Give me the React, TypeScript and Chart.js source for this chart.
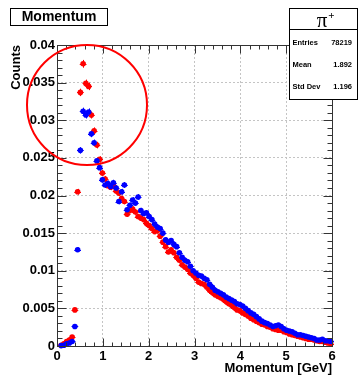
import { useEffect, useRef } from "react";
import { Chart, registerables } from "chart.js";

Chart.register(...registerables);

// Histogram binning: 100 bins over 0–6 GeV
const binCenters = [
  0.03, 0.09, 0.15, 0.21, 0.27, 0.33, 0.39, 0.45, 0.51, 0.57,
  0.63, 0.69, 0.75, 0.81, 0.87, 0.93, 0.99, 1.05, 1.11, 1.17,
  1.23, 1.29, 1.35, 1.41, 1.47, 1.53, 1.59, 1.65, 1.71, 1.77,
  1.83, 1.89, 1.95, 2.01, 2.07, 2.13, 2.19, 2.25, 2.31, 2.37,
  2.43, 2.49, 2.55, 2.61, 2.67, 2.73, 2.79, 2.85, 2.91, 2.97,
  3.03, 3.09, 3.15, 3.21, 3.27, 3.33, 3.39, 3.45, 3.51, 3.57,
  3.63, 3.69, 3.75, 3.81, 3.87, 3.93, 3.99, 4.05, 4.11, 4.17,
  4.23, 4.29, 4.35, 4.41, 4.47, 4.53, 4.59, 4.65, 4.71, 4.77,
  4.83, 4.89, 4.95, 5.01, 5.07, 5.13, 5.19, 5.25, 5.31, 5.37,
  5.43, 5.49, 5.55, 5.61, 5.67, 5.73, 5.79, 5.85, 5.91, 5.97,
];
const binWidth = 0.06;

// Normalised counts per bin
const redCounts: (number | null)[] = [
  null, 0.0001, 0.0003, 0.0006, 0.0008, 0.0012, 0.0048, 0.0205, 0.0337, 0.0375,
  0.0349, 0.0345, 0.0307, 0.0286, 0.0267, 0.0248, 0.0230, 0.0222, 0.0213, 0.0211,
  0.0214, 0.0206, 0.0203, 0.0196, 0.0192, 0.0175, 0.0180, 0.0182, 0.0178, 0.0172,
  0.0170, 0.0168, 0.0163, 0.0160, 0.0156, 0.0152, 0.0153, 0.0146, 0.0138, 0.0132,
  0.0125, 0.0128, 0.0124, 0.0118, 0.0114, 0.0108, 0.0105, 0.0102, 0.0097, 0.0094,
  0.0090, 0.0085, 0.0083, 0.0082, 0.0078, 0.0074, 0.0071, 0.0068, 0.0066, 0.0064,
  0.0062, 0.0059, 0.0056, 0.0054, 0.0051, 0.0048, 0.0047, 0.0044, 0.0042, 0.0040,
  0.0037, 0.0035, 0.0033, 0.0031, 0.0029, 0.0028, 0.0026, 0.0025, 0.0023, 0.0022,
  0.0021, 0.0021, 0.0019, 0.0018, 0.0016, 0.0015, 0.0014, 0.0013, 0.0012, 0.0011,
  0.0010, 0.0009, 0.0009, 0.0008, 0.0007, 0.0006, 0.0006, 0.0005, 0.0004, 0.0003,
];

const blueCounts: (number | null)[] = [
  null, 0.00005, 0.0001, 0.0003, 0.0004, 0.0006, 0.0026, 0.0128, 0.0260, 0.0312,
  0.0307, 0.0311, 0.0282, 0.0270, 0.0246, 0.0237, 0.0221, 0.0214, 0.0216, 0.0212,
  0.0217, 0.0210, 0.0192, 0.0205, 0.0214, 0.0181, 0.0187, 0.0194, 0.0190, 0.0198,
  0.0180, 0.0176, 0.0177, 0.0172, 0.0168, 0.0162, 0.0158, 0.0156, 0.0150, 0.0141,
  0.0138, 0.0140, 0.0135, 0.0132, 0.0124, 0.0118, 0.0114, 0.0112, 0.0106, 0.0100,
  0.0097, 0.0094, 0.0093, 0.0090, 0.0088, 0.0082, 0.0078, 0.0074, 0.0072, 0.0070,
  0.0068, 0.0065, 0.0063, 0.0061, 0.0059, 0.0056, 0.0055, 0.0053, 0.0050, 0.0047,
  0.0044, 0.0042, 0.0039, 0.0036, 0.0033, 0.0031, 0.0030, 0.0028, 0.0026, 0.0027,
  0.0028, 0.0026, 0.0023, 0.0021, 0.0020, 0.0019, 0.0017, 0.0015, 0.0015, 0.0014,
  0.0013, 0.0012, 0.0011, 0.0010, 0.0008, 0.0008, 0.0009, 0.0007, 0.0007, 0.0006,
];

// Statistics box
const statsTitle = "π";
const statsLabels = ["Entries", "Mean", "Std Dev"];
const statsValues = ["78219", "1.892", "1.196"];
const histTitle = "Momentum";

// Statistical uncertainty: sqrt(content / effective entries)
const effectiveEntries = 140000;

const RED = "#ff0000";
const BLUE = "#0000ff";
const FONT = "Liberation Sans";

const toPoints = (vals: (number | null)[]) =>
  binCenters
    .map((x, i) => ({ x, y: vals[i] }))
    .filter((p) => p.y !== null) as { x: number; y: number }[];

const errorBarsPlugin = {
  id: "errorBars",
  beforeDatasetsDraw(chart: any) {
    const { ctx } = chart;
    const xs = chart.scales.x;
    const ys = chart.scales.y;
    ctx.save();
    ctx.lineWidth = 1;
    // draw lower layers first
    for (let di = chart.data.datasets.length - 1; di >= 0; di--) {
      const ds = chart.data.datasets[di];
      ctx.strokeStyle = ds.pointBackgroundColor;
      ds.data.forEach((p: { x: number; y: number }) => {
        const err = Math.sqrt(p.y / effectiveEntries);
        const px = xs.getPixelForValue(p.x);
        const py = ys.getPixelForValue(p.y);
        const y1 = ys.getPixelForValue(p.y + err);
        const y2 = ys.getPixelForValue(Math.max(0, p.y - err));
        const x1 = xs.getPixelForValue(p.x - binWidth / 2);
        const x2 = xs.getPixelForValue(p.x + binWidth / 2);
        ctx.beginPath();
        ctx.moveTo(Math.round(px) + 0.5, y1);
        ctx.lineTo(Math.round(px) + 0.5, y2);
        ctx.moveTo(x1 - 2, Math.round(py) + 0.5);
        ctx.lineTo(x2 + 2, Math.round(py) + 0.5);
        ctx.stroke();
      });
    }
    ctx.restore();
  },
};

const framePlugin = {
  id: "frame",
  afterDatasetsDraw(chart: any) {
    const { ctx, chartArea } = chart;
    const xs = chart.scales.x;
    const ys = chart.scales.y;
    const L = Math.round(chartArea.left) + 0.5;
    const R = Math.round(chartArea.right) + 0.5;
    const T = Math.round(chartArea.top) + 0.5;
    const B = Math.round(chartArea.bottom) + 0.5;
    ctx.save();
    ctx.strokeStyle = "#333";
    ctx.lineWidth = 1;
    ctx.strokeRect(L, T, R - L, B - T);
    ctx.beginPath();
    // x ticks: major every 1, minor every 0.2
    for (let i = 0; i <= 30; i++) {
      const px = Math.round(xs.getPixelForValue(i * 0.2)) + 0.5;
      const len = i % 5 === 0 ? 8 : 4;
      ctx.moveTo(px, B);
      ctx.lineTo(px, B - len);
      ctx.moveTo(px, T);
      ctx.lineTo(px, T + len);
    }
    // y ticks: major every 0.005, minor every 0.001
    for (let i = 0; i <= 40; i++) {
      const py = Math.round(ys.getPixelForValue(i * 0.001)) + 0.5;
      const len = i % 5 === 0 ? 9 : 5;
      ctx.moveTo(L, py);
      ctx.lineTo(L + len, py);
      ctx.moveTo(R, py);
      ctx.lineTo(R - len, py);
    }
    ctx.stroke();

    // highlight circle
    ctx.strokeStyle = RED;
    ctx.lineWidth = 2;
    ctx.beginPath();
    ctx.arc(87, 105, 60, 0, Math.PI * 2);
    ctx.stroke();
    ctx.restore();
  },
  afterDraw(chart: any) {
    const { ctx } = chart;
    ctx.save();
    // histogram title box
    ctx.fillStyle = "#fff";
    ctx.strokeStyle = "#000";
    ctx.lineWidth = 1;
    ctx.fillRect(10.5, 8.5, 97, 17);
    ctx.strokeRect(10.5, 8.5, 97, 17);
    ctx.fillStyle = "#000";
    ctx.font = `bold 14px "${FONT}"`;
    ctx.textAlign = "center";
    ctx.textBaseline = "middle";
    ctx.fillText(histTitle, 59, 17.5);

    // statistics box
    const bx = 289.5, by = 8.5, bw = 68, bh = 91;
    ctx.fillStyle = "#fff";
    ctx.fillRect(bx, by, bw, bh);
    ctx.strokeStyle = "#000";
    ctx.strokeRect(bx, by, bw, bh);
    ctx.beginPath();
    ctx.moveTo(bx, 29.5);
    ctx.lineTo(bx + bw, 29.5);
    ctx.stroke();

    ctx.fillStyle = "#000";
    ctx.font = `21px "Liberation Serif"`;
    ctx.textAlign = "center";
    ctx.textBaseline = "alphabetic";
    ctx.fillText(statsTitle, 322, 27);
    ctx.font = `bold 11px "Liberation Serif"`;
    ctx.fillText("+", 331.5, 19);

    ctx.font = `bold 7.5px "${FONT}"`;
    ctx.textBaseline = "middle";
    const rowsY = [43, 65, 87];
    statsLabels.forEach((lab, i) => {
      ctx.textAlign = "left";
      ctx.fillText(lab, 292.5, rowsY[i]);
      ctx.textAlign = "right";
      ctx.fillText(statsValues[i], 352, rowsY[i]);
    });
    ctx.restore();
  },
};

export default function App() {
  const ref = useRef<HTMLCanvasElement>(null);

  useEffect(() => {
    const tickFont = { family: FONT, weight: "bold" as const, size: 13 };
    const chart = new Chart(ref.current!, {
      type: "scatter",
      data: {
        datasets: [
          {
            label: "blue",
            data: toPoints(blueCounts),
            pointBackgroundColor: BLUE,
            pointBorderColor: BLUE,
            pointBorderWidth: 0,
            pointRadius: 2.8,
            clip: false as any,
          },
          {
            label: "red",
            data: toPoints(redCounts),
            pointBackgroundColor: RED,
            pointBorderColor: RED,
            pointBorderWidth: 0,
            pointRadius: 2.8,
            clip: false as any,
          },
        ],
      },
      options: {
        animation: false,
        responsive: false,
        layout: { padding: { left: 0, right: 28, top: 45, bottom: 0 } },
        plugins: {
          legend: { display: false },
          tooltip: { enabled: false },
        },
        scales: {
          x: {
            type: "linear",
            min: 0,
            max: 6,
            afterFit(s: any) {
              s.height = 30;
            },
            ticks: {
              stepSize: 1,
              font: tickFont,
              color: "#000",
              padding: 3,
              maxRotation: 0,
              autoSkip: false,
            },
            grid: { color: "#c4c4c4", lineWidth: 1, drawTicks: false },
            border: { display: false, dash: [2, 2] },
            title: {
              display: true,
              text: "Momentum [GeV]",
              align: "end",
              color: "#000",
              font: tickFont,
              padding: { top: 0, bottom: 0 },
            },
          },
          y: {
            type: "linear",
            min: 0,
            max: 0.04,
            afterFit(s: any) {
              s.width = 57;
            },
            ticks: {
              stepSize: 0.005,
              font: tickFont,
              color: "#000",
              padding: 2,
              autoSkip: false,
              callback: (v: any) => String(+Number(v).toFixed(3)),
            },
            grid: { color: "#c4c4c4", lineWidth: 1, drawTicks: false },
            border: { display: false, dash: [2, 2] },
            title: {
              display: true,
              text: "Counts",
              align: "end",
              color: "#000",
              font: tickFont,
              padding: { top: 9, bottom: 0 },
            },
          },
        },
      },
      plugins: [errorBarsPlugin, framePlugin],
    });
    return () => chart.destroy();
  }, []);

  return (
    <div
      style={{
        position: "absolute",
        left: 0,
        top: 0,
        width: 360,
        height: 376,
        background: "#fff",
      }}
    >
      <canvas
        ref={ref}
        width={360}
        height={376}
        style={{ display: "block", width: 360, height: 376 }}
      />
    </div>
  );
}
